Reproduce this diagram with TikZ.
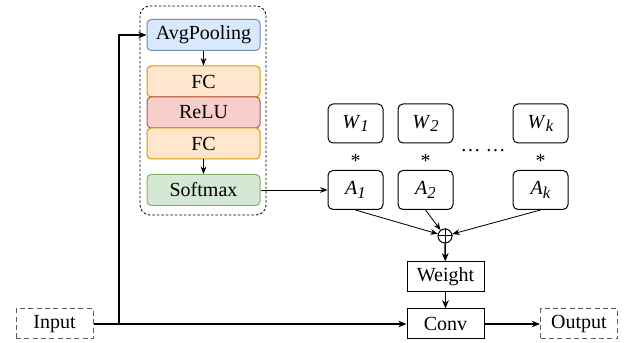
\documentclass[tikz,border=0pt]{standalone}
\usepackage{fontspec}
\setmainfont{Liberation Serif}
\newfontfamily\tnr{Liberation Serif}
\usetikzlibrary{arrows.meta,positioning}
\definecolor{avgfill}{RGB}{218,232,252}
\definecolor{avgline}{RGB}{108,142,191}
\definecolor{fcfill}{RGB}{255,230,204}
\definecolor{fcline}{RGB}{215,155,0}
\definecolor{relufill}{RGB}{248,206,204}
\definecolor{reluline}{RGB}{184,84,80}
\definecolor{smfill}{RGB}{213,232,212}
\definecolor{smline}{RGB}{130,179,102}
\definecolor{iogray}{RGB}{90,90,90}
\newcommand{\sbs}[2]{\textit{#1}\raisebox{-.35ex}{\fontsize{10}{10}\selectfont\textit{#2}}}

\begin{document}
\begin{tikzpicture}[x=0.6pt,y=-0.6pt,font=\tnr\fontsize{12}{14}\selectfont,layer/.style={rounded corners=2.5pt,line width=.6pt,minimum width=67.8pt,minimum height=18.6pt,inner sep=0pt},wa/.style={draw,rounded corners=3pt,line width=.6pt,minimum width=33pt,minimum height=23.4pt,inner sep=0pt},op/.style={draw,line width=.6pt,minimum width=46.2pt,minimum height=18pt,inner sep=0pt},io/.style={draw=iogray,dash pattern=on 3pt off 2pt,line width=.6pt,minimum width=46.2pt,minimum height=18pt,inner sep=0pt},thin/.style={-{Stealth[length=4.5pt,width=3.5pt]},line width=.5pt},bold/.style={-{Stealth[length=5pt,width=4pt]},line width=.9pt}]
\useasboundingbox (0,0) rectangle (626,343);

\draw[dash pattern=on 1.5pt off 1.2pt,line width=.5pt,rounded corners=6pt] (140,6) rectangle (266,215);
\node[layer,draw=avgline,fill=avgfill] (avg) at (203.5,35) {AvgPooling};
\node[layer,draw=fcline,fill=fcfill] (fc1) at (203.5,81.5) {FC};
\node[layer,draw=reluline,fill=relufill] (relu) at (203.5,112.5) {ReLU};
\node[layer,draw=fcline,fill=fcfill] (fc2) at (203.5,143.5) {FC};
\node[layer,draw=smline,fill=smfill] (soft) at (203.5,190) {Softmax};

\node[wa] (w1) at (355.5,123.5) {\sbs{W}{1}};
\node[wa] (w2) at (425.5,123.5) {\sbs{W}{2}};
\node[wa] (wk) at (540.5,123.5) {\sbs{W}{k}};
\node[wa] (a1) at (355.5,190) {\sbs{A}{1}};
\node[wa] (a2) at (425.5,190) {\sbs{A}{2}};
\node[wa] (ak) at (540.5,190) {\sbs{A}{k}};
\node (s1) at (355.5,161) {*};
\node (s2) at (425.5,161) {*};
\node (sk) at (540.5,161) {*};
\node (dots) at (483,151) {\dots\ \dots};

\node[circle,draw,line width=.6pt,minimum size=8.4pt,inner sep=0pt] (sum) at (445,236) {};
\draw[line width=.6pt] (sum.north) -- (sum.south) (sum.west) -- (sum.east);

\node[op] (weight) at (445.5,277) {Weight};
\node[op] (conv) at (445.5,324) {Conv};
\node[io] (in) at (54.5,324) {Input};
\node[io] (out) at (579,324) {Output};
\coordinate (split) at (119,324);

\draw[thin] (avg) -- (fc1);
\draw[thin] (fc2) -- (soft);
\draw[thin] (soft) -- (a1);
\draw[thin] (a1.south) -- (sum);
\draw[thin] (a2.south) -- (sum);
\draw[thin] (ak.south) -- (sum);
\draw[bold] (sum) -- (weight);
\draw[bold] (weight) -- (conv);
\draw[bold] (in) -- (conv);
\draw[bold] (split) |- (avg);
\draw[bold] (conv) -- (out);
\end{tikzpicture}
\end{document}
